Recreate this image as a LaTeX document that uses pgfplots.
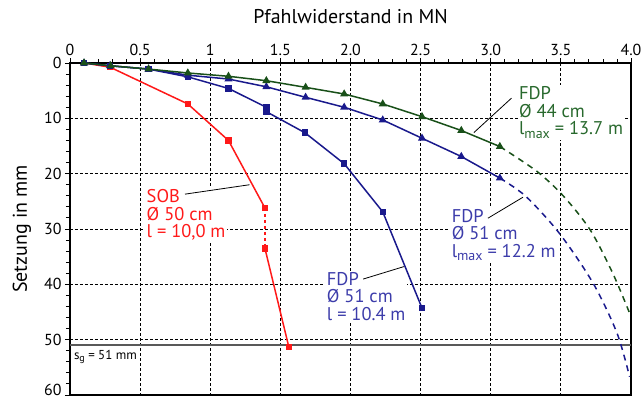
\documentclass[border=0pt]{standalone}
\usepackage{fontspec}
\setmainfont{PT Sans}
\usepackage{pgfplots}
\pgfplotsset{compat=1.18}
\definecolor{cred}{RGB}{255,25,25}
\definecolor{cblue}{RGB}{25,25,140}
\definecolor{cgreen}{RGB}{25,80,25}
\definecolor{tblue}{RGB}{60,60,170}
\definecolor{tgreen}{RGB}{40,105,45}
\newcommand{\lmax}{l\raisebox{-0.4ex}{\fontsize{14}{14}\selectfont max}}
\begin{document}
\begin{tikzpicture}
\useasboundingbox (-70bp,-6bp) rectangle (573bp,395bp);
\begin{axis}[at={(0,0)}, anchor=south west, scale only axis, width=561bp, height=332bp,
  xmin=0, xmax=4, ymin=0, ymax=60, y dir=reverse,
  xtick={0,0.5,1,1.5,2,2.5,3,3.5,4}, xticklabels={0,0.5,1,1.5,2.0,2.5,3.0,3.5,4.0},
  ytick={0,10,20,30,40,50,60},
  yticklabels={0,10,20,30,40,50,\raisebox{5bp}[\height][\depth]{60}},
  minor x tick num=4, minor y tick num=4,
  xtick pos=right, ytick pos=left, xticklabel pos=right,
  tick align=outside,
  major tick length=5bp, minor tick length=4bp,
  tick style={black, line width=0.9bp},
  axis line style={line width=1.8bp},
  grid=major, major grid style={black, line width=0.9bp, dash pattern=on 3bp off 2bp},
  /pgf/number format/assume math mode=true,
  ticklabel style={font=\fontsize{16}{18}\selectfont},
  xticklabel style={yshift=-1bp},
  xlabel={Pfahlwiderstand in MN}, ylabel={Setzung in mm},
  every axis x label/.style={at={(axis description cs:0.5,1.1386)}, anchor=center, font=\fontsize{20}{22}\selectfont},
  every axis y label/.style={at={(axis description cs:-0.0856,0.5)}, anchor=center, rotate=90, font=\fontsize{20}{22}\selectfont},
  clip=false,
]
% limit line s_g
\addplot[gray!70!black, line width=1.6bp] coordinates {(0,51) (4,51)};
\node[anchor=west, font=\fontsize{13}{14}\selectfont, inner sep=1bp] at (axis cs:0.02,53.1) {s\raisebox{-0.4ex}{\fontsize{10}{10}\selectfont g} = 51 mm};
% labels
\node[anchor=west, align=left, fill=white, inner sep=1.5bp, text=cred, font=\fontsize{18.5}{17.5}\selectfont] at (axis cs:0.535,27.45) {SOB\\Ø 50 cm\\l = 10,0 m};
\node[anchor=west, align=left, fill=white, inner sep=1.5bp, text=tgreen, font=\fontsize{18.5}{17.5}\selectfont] at (axis cs:3.19,9.0) {FDP\\Ø 44 cm\\\lmax{} = 13.7 m};
\node[anchor=west, align=left, fill=white, inner sep=1.5bp, text=tblue, font=\fontsize{18.5}{17.5}\selectfont] at (axis cs:2.71,31.1) {FDP\\Ø 51 cm\\\lmax{} = 12.2 m};
\node[anchor=west, align=left, fill=white, inner sep=1.5bp, text=tblue, font=\fontsize{18.5}{17.5}\selectfont] at (axis cs:1.82,42.2) {FDP\\Ø 51 cm\\l = 10.4 m};
% leader lines
\draw[black, line width=0.8bp] (axis cs:0.82,23.7) -- (axis cs:1.28,22.0);
\draw[black, line width=0.8bp] (axis cs:3.148,6.35) -- (axis cs:2.88,12.57);
\draw[black, line width=0.8bp] (axis cs:2.98,28.05) -- (axis cs:3.23,24.25);
\draw[black, line width=0.8bp] (axis cs:2.09,39.05) -- (axis cs:2.38,36.8);
% SOB
\addplot[cred, line width=1.5bp, mark=square*, mark size=2.5bp] coordinates {(0.1,0) (0.285,0.75) (0.84,7.4) (1.13,14.0) (1.39,26.2)};
\addplot[cred, line width=1.5bp, dashed] coordinates {(1.39,26.2) (1.39,33.5)};
\addplot[cred, line width=1.5bp, mark=square*, mark size=2.5bp] coordinates {(1.39,33.5) (1.56,51.3)};
% FDP 51 l=10.4
\addplot[cblue, line width=1.5bp, mark=square*, mark size=2.5bp] coordinates {(0.1,0) (0.285,0.5) (0.56,1.1) (0.84,2.5) (1.13,4.6) (1.40,8.0) (1.40,8.8) (1.675,12.6) (1.955,18.2) (2.23,26.9) (2.51,44.3)};
% FDP 51 lmax=12.2
\addplot[cblue, line width=1.5bp, mark=triangle*, mark size=3.2bp] coordinates {(0.1,0) (0.285,0.5) (0.56,1.1) (0.84,2.2) (1.13,2.9) (1.40,4.3) (1.68,6.2) (1.955,8.0) (2.23,10.3) (2.51,13.6) (2.79,16.9) (3.065,20.8)};
\addplot[cblue, line width=1.5bp, dash pattern=on 6bp off 5bp, smooth] coordinates {(3.065,20.8) (3.25,24.1) (3.49,30.8) (3.73,39.8) (3.9,48.8) (3.99,56.7)};
% FDP 44
\addplot[cgreen, line width=1.5bp, mark=triangle*, mark size=3.2bp] coordinates {(0.1,0) (0.29,0.5) (0.56,1.1) (0.84,1.8) (1.13,2.4) (1.40,3.2) (1.68,4.4) (1.955,5.6) (2.23,7.4) (2.51,9.7) (2.79,12.2) (3.065,15.1)};
\addplot[cgreen, line width=1.5bp, dash pattern=on 6bp off 5bp, smooth] coordinates {(3.065,15.1) (3.33,19.6) (3.52,24.1) (3.71,30.2) (3.87,38.0) (3.99,45.2)};
\end{axis}
\end{tikzpicture}
\end{document}
